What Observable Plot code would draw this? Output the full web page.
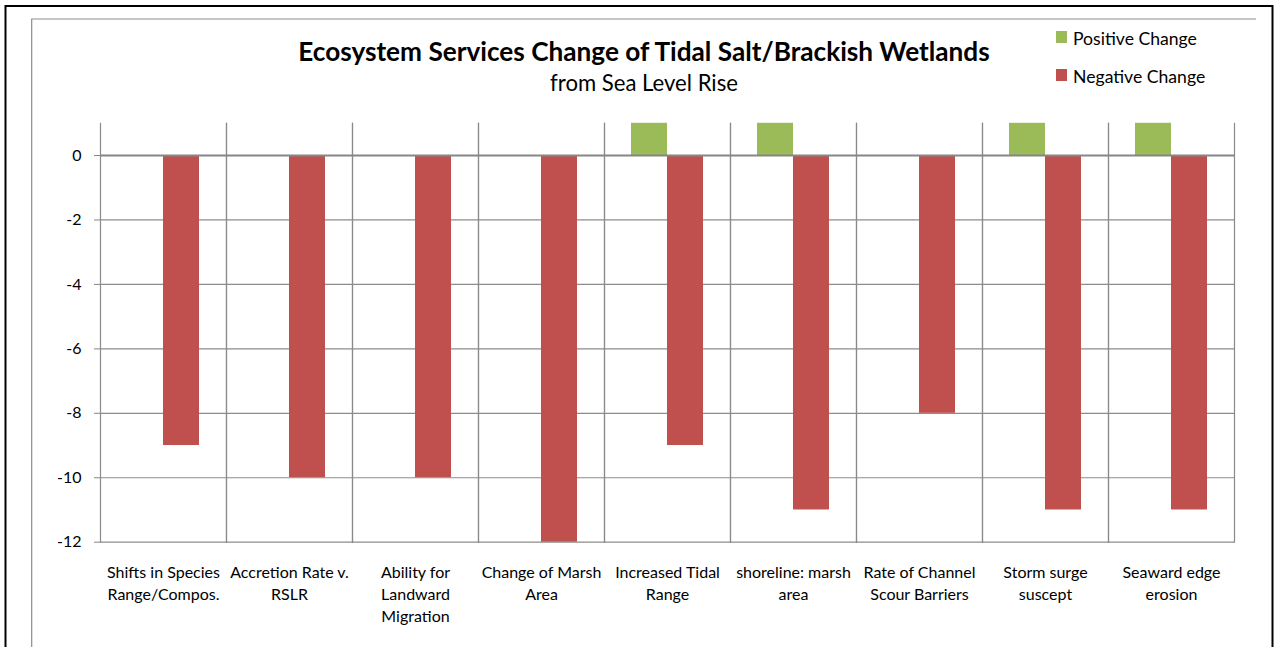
<!DOCTYPE html>
<html>
<head>
<meta charset="utf-8">
<script src="https://cdn.jsdelivr.net/npm/d3@7"></script>
<script src="https://cdn.jsdelivr.net/npm/@observablehq/plot@0.6"></script>
<style>
  html, body { margin: 0; padding: 0; background: white; }
  #wrap { position: relative; width: 1276px; height: 647px; overflow: hidden; background: white; }
  #wrap > svg { position: absolute; left: 0; top: 0; }
</style>
</head>
<body>
<div id="wrap"></div>
<script>
const categories = [
  "Shifts in Species Range/Compos.",
  "Accretion Rate v. RSLR",
  "Ability for Landward Migration",
  "Change of Marsh Area",
  "Increased Tidal Range",
  "shoreline: marsh area",
  "Rate of Channel Scour Barriers",
  "Storm surge suscept",
  "Seaward edge erosion"
];
const labels = [
  "Shifts in Species\nRange/Compos.",
  "Accretion Rate v.\nRSLR",
  "Ability for\nLandward\nMigration",
  "Change of Marsh\nArea",
  "Increased Tidal\nRange",
  "shoreline: marsh\narea",
  "Rate of Channel\nScour Barriers",
  "Storm surge\nsuscept",
  "Seaward edge\nerosion"
];
const series = ["Positive Change", "Negative Change"];
const positive = [0, 0, 0, 0, 1, 1, 0, 1, 1];
const negative = [-9, -10, -10, -12, -9, -11, -8, -11, -11];
const yTicks = [0, -2, -4, -6, -8, -10, -12];
const gridTicks = [-2, -4, -6, -8, -10, -12];
const colors = ["#9BBB59", "#C0504D"];
const title = "Ecosystem Services Change of Tidal Salt/Brackish Wetlands";
const subtitle = "from Sea Level Rise";

const table = [];
categories.forEach((c, i) => {
  if (positive[i] !== 0) table.push({category: c, series: series[0], value: positive[i]});
  if (negative[i] !== 0) table.push({category: c, series: series[1], value: negative[i]});
});

const chart = Plot.plot({
  width: 1276,
  height: 647,
  marginLeft: 99,
  marginRight: 42,
  marginTop: 122.8,
  marginBottom: 105.3,
  style: {background: "transparent", fontFamily: "Lato, sans-serif", fontSize: "16px", color: "black"},
  fx: {domain: categories, padding: 0, axis: null},
  x: {domain: series, paddingInner: 0, paddingOuter: 0.75, axis: null},
  y: {domain: [-12, 1], axis: null},
  color: {domain: series, range: colors},
  marks: [
    Plot.ruleY(gridTicks, {stroke: "#8c8c8c", strokeWidth: 1.2}),
    Plot.frame({anchor: "left", stroke: "#8a8a8a", strokeWidth: 1.2}),
    Plot.frame({anchor: "right", stroke: "#8a8a8a", strokeWidth: 1.2}),
    Plot.barY(table, {fx: "category", x: "series", y: "value", fill: "series"}),
    Plot.ruleY([0], {stroke: "#868686", strokeWidth: 2}),
    Plot.axisY({ticks: yTicks, tickSize: 6, tickPadding: 13, tickFormat: d => String(d),
                stroke: "#868686", fill: "black", label: null, fontSize: 16}),
    Plot.text(d3.range(categories.length), {
      fx: i => categories[i], text: i => labels[i],
      frameAnchor: "bottom", lineAnchor: "top", dy: 20.5, lineHeight: 1.37,
      fill: "black", fontSize: 16
    })
  ]
});

const wrap = document.getElementById("wrap");
wrap.appendChild(chart);

// overlay: title, subtitle, legend, chart borders
const ov = d3.select(wrap).append("svg")
  .attr("width", 1276).attr("height", 647)
  .style("pointer-events", "none")
  .style("font-family", "Lato, sans-serif");

ov.append("rect").attr("x", 5.5).attr("y", 6).attr("width", 1267).attr("height", 700)
  .attr("fill", "none").attr("stroke", "black").attr("stroke-width", 2);
ov.append("path").attr("d", "M31.7,700V19H1256")
  .attr("fill", "none").attr("stroke", "#8c8c8c").attr("stroke-width", 1.2);

function fitText(sel, target) {
  const w = sel.node().getComputedTextLength();
  const fs = parseFloat(sel.attr("font-size"));
  if (w > 0) sel.attr("font-size", fs * target / w);
}

const t = ov.append("text").attr("x", 644).attr("y", 60.7).attr("text-anchor", "middle")
  .attr("font-weight", "bold").attr("font-size", 24).text(title);
fitText(t, 692);
const st = ov.append("text").attr("x", 644).attr("y", 91).attr("text-anchor", "middle")
  .attr("font-size", 19).text(subtitle);
fitText(st, 188);

const legendY = [31, 69];
let legendFs = 16;
series.forEach((s, i) => {
  ov.append("rect").attr("x", 1056).attr("y", legendY[i]).attr("width", 11).attr("height", 12)
    .attr("fill", colors[i]);
  const lt = ov.append("text").attr("x", 1073).attr("y", legendY[i] + 13.5)
    .attr("font-size", legendFs).text(s);
  if (i === 0) { fitText(lt, 124); legendFs = lt.attr("font-size"); }
  else lt.attr("font-size", legendFs);
});
</script>
</body>
</html>
